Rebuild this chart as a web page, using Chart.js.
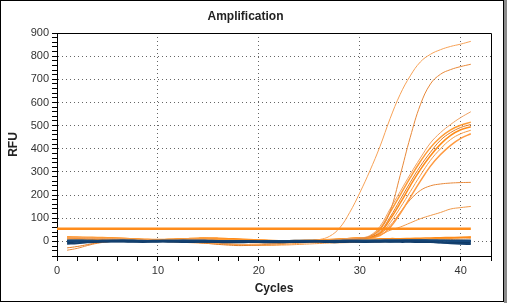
<!DOCTYPE html>
<html>
<head>
<meta charset="utf-8">
<script src="https://cdn.jsdelivr.net/npm/chart.js@4"></script>
<style>
  html, body { margin: 0; padding: 0; background: #fff; }
  #wrap { width: 507px; height: 303px; }
</style>
</head>
<body>
<div id="wrap"><canvas id="amp" width="507" height="303"></canvas></div>
<script>
// cycle numbers
var cycles = [1,2,3,4,5,6,7,8,9,10,11,12,13,14,15,16,17,18,19,20,21,22,23,24,25,26,27,28,29,30,31,32,33,34,35,36,37,38,39,40,41];

// amplified wells (RFU per cycle)
var ampA  = [15,17,16,14,13,12,10,8,6,4, 2,0,-2,-4,-6,-8,-10,-12,-13,-12, -10,-7,-4,-1,2,8,22,58,125,210, 305,410,530,635,715,775,808,828,842,852,864];
var ampB  = [-38,-30,-18,-8,-2,2,4,5,6,6, 5,5,4,3,2,1,0,-1,-1,0, 0,1,1,2,2,3,3,4,8,12, 22,50,130,285,450,590,680,722,742,755,765];
var ampG1 = [14,15,13,12,10,9,8,7,6,5, 6,8,10,9,7,4,2,0,-2,-3, -2,-1,0,1,2,3,5,8,12,14, 25,65,140,215,290,360,425,470,505,535,560];
var ampG2 = [20,19,18,17,16,15,13,10,8,6, 8,10,12,13,12,10,8,6,5,4, 3,2,2,3,4,6,8,10,13,15, 20,55,125,200,275,345,405,450,482,502,515];
var ampG3 = [-28,-22,-14,-6,-1,2,3,4,3,2, 1,0,-2,-5,-9,-13,-16,-18,-17,-15, -12,-9,-6,-3,-1,0,2,5,9,12, 18,42,105,180,255,325,385,437,470,492,505];
var ampG4 = [12,13,14,12,10,9,7,5,4,3, 6,9,12,14,15,14,12,10,8,6, 4,2,1,2,3,5,7,10,13,15, 17,35,95,165,240,310,370,420,458,482,495];
var ampG5 = [16,17,15,13,11,9,7,5,3,1, 0,-1,-2,-4,-6,-8,-11,-14,-16,-17, -16,-14,-11,-8,-5,-3,0,4,8,11, 14,30,80,145,215,285,350,400,440,465,480];
var ampG6 = [18,17,16,16,15,14,12,10,8,7, 7,8,9,8,6,4,2,-2,-4,-5, -4,-3,-2,-1,0,2,4,8,12,14, 15,25,60,120,190,260,325,375,415,445,465];
var amp255 = [14,13,12,11,10,8,6,5,4,3, 4,6,9,11,13,12,10,7,4,2, 2,2,3,3,4,5,6,8,10,12, 16,35,68,125,180,220,240,248,252,254,255];
var amp150 = [11,12,12,11,10,9,8,7,6,5, 4,4,5,6,7,8,6,4,2,1, 0,0,1,2,3,3,4,5,7,9, 14,28,48,62,80,98,112,125,140,146,151];

// flat orange wells
var flatO1 = [15,14,13,12,12,11,10,9,8,8, 9,10,11,12,12,11,10,8,6,5, 4,3,3,4,5,6,7,8,9,10, 10,11,12,12,13,14,15,16,17,18,18];
var flatO2 = [5,6,7,6,5,4,3,2,1,0, -1,-3,-5,-7,-9,-11,-13,-15,-16,-17, -17,-16,-15,-13,-11,-9,-7,-6,-5,-4, -3,-2,-1,0,1,2,4,6,8,10,12];
var flatO3 = [13,12,10,8,6,5,4,3,2,2, 3,4,5,4,3,2,1,0,-1,-2, -2,-3,-4,-4,-3,-2,-1,0,1,2, 3,4,5,6,7,8,10,12,14,16,20];

// blue wells
var blue1 = [-10,-8,-4,-1,0,1,1,0,0,1, 1,0,0,-1,-1,0,0,1,1,0, 0,-1,-1,0,0,1,1,0,0,-1, -1,0,0,1,1,0,-2,-5,-8,-10,-11];
var blue2 = [2,3,3,2,2,3,4,3,2,2, 3,3,2,2,1,1,2,2,1,0, 0,1,1,2,2,2,1,1,2,2, 2,3,3,3,4,4,4,3,2,2,2];
var blue3 = [-3,-2,-1,-1,0,0,-1,-2,-2,-1, -1,-2,-3,-2,-2,-3,-4,-4,-3,-3, -4,-4,-3,-3,-2,-2,-3,-3,-2,-2, -2,-1,-1,-2,-2,-3,-3,-4,-5,-5,-5];
var blue4 = [4,4,3,3,4,4,3,2,2,3, 3,3,4,4,3,2,2,1,1,1, 2,2,2,3,3,2,2,3,4,4, 4,4,5,5,5,5,4,4,4,4,4];

// threshold line
var thresholdX = [0, 41];
var thresholdY = [55, 55];

function pts(xs, ys) {
  return xs.map(function (x, i) { return { x: x, y: ys[i] }; });
}

function series(ys, color, width, order) {
  return {
    data: pts(cycles, ys),
    borderColor: color,
    borderWidth: width,
    pointRadius: 0,
    tension: 0.4,
    fill: false,
    order: order
  };
}

var datasets = [
  { data: pts(thresholdX, thresholdY), borderColor: '#ff8c1a', borderWidth: 2.5, pointRadius: 0, order: 0 },
  series(blue1, '#123f6e', 2, 1),
  series(blue2, '#15477a', 2, 1),
  series(blue3, '#0f3a66', 2, 1),
  series(blue4, '#1a4f82', 2, 1),
  series(ampA, '#f7a257', 1, 2),
  series(ampB, '#e8893a', 1, 2),
  series(ampG1, '#f0a060', 1, 2),
  series(ampG2, '#ff9a33', 1.5, 2),
  series(ampG3, '#e07a22', 1, 2),
  series(ampG4, '#ff8c1a', 1.5, 2),
  series(ampG5, '#f59a45', 1, 2),
  series(ampG6, '#ff9a40', 1.5, 2),
  series(amp255, '#e8893a', 1, 2),
  series(amp150, '#f0994a', 1, 2),
  series(flatO1, '#ff8c1a', 1.5, 2),
  series(flatO2, '#f39a4a', 1, 2),
  series(flatO3, '#ff9a33', 1.5, 2)
];

var frame = {
  id: 'frame',
  afterDraw: function (chart) {
    var c = chart.ctx, a = chart.chartArea;
    c.save();
    c.strokeStyle = '#000';
    c.lineWidth = 1;
    c.beginPath();
    c.moveTo(a.left, Math.round(a.top) + 0.5);
    c.lineTo(Math.round(a.right) + 0.5, Math.round(a.top) + 0.5);
    c.lineTo(Math.round(a.right) + 0.5, a.bottom);
    c.stroke();
    c.strokeRect(0.5, 0.5, 503, 301);
    c.fillStyle = '#8a8a8a';
    c.fillRect(504, 0, 3, 303);
    c.restore();
  }
};

var tickFont = { family: 'Liberation Sans, Arial, sans-serif', size: 11 };
var boldFont = { family: 'Liberation Sans, Arial, sans-serif', size: 12, weight: 'bold' };

new Chart(document.getElementById('amp'), {
  type: 'line',
  data: { datasets: datasets },
  plugins: [frame],
  options: {
    responsive: false,
    animation: false,
    layout: { padding: { left: 0, right: 16, top: 0, bottom: 0 } },
    plugins: {
      legend: { display: false },
      tooltip: { enabled: false },
      title: {
        display: true,
        text: 'Amplification',
        color: '#222',
        font: boldFont,
        padding: { top: 9, bottom: 9.6 }
      }
    },
    scales: {
      x: {
        type: 'linear',
        min: 0,
        max: 43,
        afterFit: function (s) { s.height = 47; },
        ticks: {
          stepSize: 2,
          autoSkip: false,
          maxRotation: 0,
          color: '#333',
          font: tickFont,
          padding: 3,
          callback: function (v) { return v % 10 === 0 ? v : ''; }
        },
        grid: {
          color: function (ctx) { return ctx.tick && ctx.tick.value % 10 === 0 && ctx.tick.value > 0 && ctx.tick.value < 43 ? '#666' : 'rgba(0,0,0,0)'; },
          tickColor: '#000',
          tickLength: 5
        },
        border: { color: '#000', width: 1, dash: [1, 3] },
        title: { display: true, text: 'Cycles', color: '#222', font: boldFont, padding: { top: 0, bottom: 7 } }
      },
      y: {
        min: -63,
        max: 900,
        afterFit: function (s) { s.width = 57; },
        ticks: {
          stepSize: 20,
          autoSkip: false,
          color: '#333',
          font: tickFont,
          padding: 3,
          callback: function (v) { return v % 100 === 0 ? v : ''; }
        },
        grid: {
          color: function (ctx) { return ctx.tick && ctx.tick.value % 100 === 0 && ctx.tick.value < 900 ? '#666' : 'rgba(0,0,0,0)'; },
          tickColor: '#000',
          tickLength: 5
        },
        border: { color: '#000', width: 1, dash: [1, 3] },
        title: { display: true, text: 'RFU', color: '#222', font: boldFont, padding: { top: 6, bottom: 0 } }
      }
    }
  }
});
</script>
</body>
</html>
